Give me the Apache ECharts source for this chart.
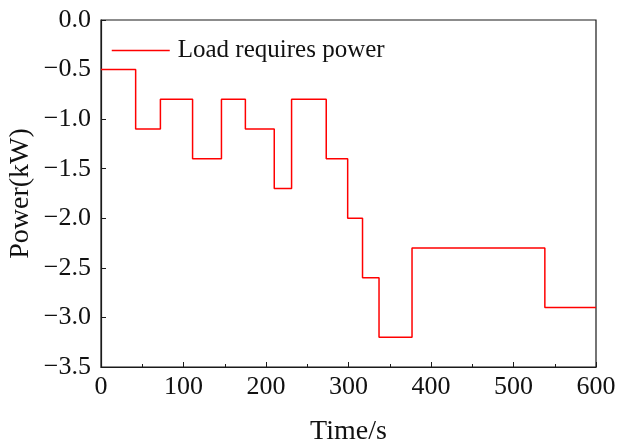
<!DOCTYPE html>
<html>
<head>
<meta charset="utf-8">
<script src="https://cdn.jsdelivr.net/npm/echarts@6/dist/echarts.min.js"></script>
<style>
  html, body { margin: 0; padding: 0; background: #fff; }
  #chart { width: 620px; height: 447px; }
</style>
</head>
<body>
<div id="chart"></div>
<script>
// step breakpoints (s) and the level held from each one (kW)
var times  = [0, 42, 72, 111, 146, 175, 210, 231, 273, 299, 317, 337, 377, 538, 600];
var levels = [-0.5, -1.1, -0.8, -1.4, -0.8, -1.1, -1.7, -0.8, -1.4, -2.0, -2.6, -3.2, -2.3, -2.9, -2.9];
var seriesName = 'Load requires power';
var xTicks = [0, 100, 200, 300, 400, 500, 600];
var yTicks = [0, -0.5, -1, -1.5, -2, -2.5, -3, -3.5];

var FONT = '"Liberation Serif", "Times New Roman", serif';
var AXIS_COLOR = '#1a1a1a';
var RED = '#ff0000';

var chart = echarts.init(document.getElementById('chart'), null, { renderer: 'canvas' });

var points = times.map(function (t, i) { return [t, levels[i]]; });

var option = {
    animation: false,
    backgroundColor: '#fff',
    grid: {
        left: 101, right: 24, top: 20, bottom: 80,
        outerBoundsMode: 'none',
        containLabel: false,
        show: true,
        borderColor: AXIS_COLOR,
        borderWidth: 1.2
    },
    legend: {
        left: 111,
        top: 38,
        padding: 0,
        itemWidth: 58,
        itemHeight: 14,
        itemGap: 0,
        data: [seriesName],
        lineStyle: { color: RED, width: 1.5 },
        itemStyle: { opacity: 0 },
        textStyle: { fontFamily: FONT, fontSize: 25, color: '#111', padding: [0, 0, 0, 3] }
    },
    xAxis: {
        type: 'value',
        min: xTicks[0],
        max: xTicks[xTicks.length - 1],
        interval: 100,
        name: 'Time/s',
        nameLocation: 'middle',
        nameGap: 51,
        nameTextStyle: { fontFamily: FONT, fontSize: 28, color: '#111' },
        axisLine: { show: true, onZero: false, lineStyle: { color: AXIS_COLOR, width: 1.2 } },
        axisTick: { show: true, inside: true, length: 5, lineStyle: { color: AXIS_COLOR } },
        minorTick: { show: true, splitNumber: 2, length: 3, lineStyle: { color: AXIS_COLOR } },
        axisLabel: { fontFamily: FONT, fontSize: 26, color: '#111', margin: 7 },
        splitLine: { show: false }
    },
    yAxis: {
        type: 'value',
        min: yTicks[yTicks.length - 1],
        max: yTicks[0],
        interval: 0.5,
        name: 'Power(kW)',
        nameLocation: 'middle',
        nameGap: 66,
        nameMoveOverlap: false,
        nameRotate: 90,
        nameTextStyle: { fontFamily: FONT, fontSize: 28, color: '#111' },
        axisLine: { show: true, onZero: false, lineStyle: { color: AXIS_COLOR, width: 1.2 } },
        axisTick: { show: true, inside: true, length: 5, lineStyle: { color: AXIS_COLOR } },
        axisLabel: {
            fontFamily: FONT, fontSize: 26, color: '#111', margin: 10,
            formatter: function (v) { return v.toFixed(1).replace('-', '\u2212'); }
        },
        splitLine: { show: false }
    },
    series: [{
        name: seriesName,
        type: 'line',
        step: 'end',
        symbol: 'none',
        data: points,
        lineStyle: { color: RED, width: 1.5 },
        itemStyle: { color: RED }
    }]
};

chart.setOption(option);
</script>
</body>
</html>
